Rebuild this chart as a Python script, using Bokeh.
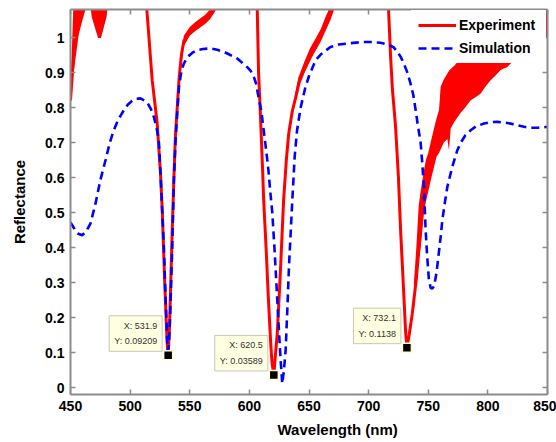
from bokeh.plotting import figure
from bokeh.models import (Range1d, LinearAxis, FixedTicker, Label, Title,
                          Legend, LegendItem, CustomLabelingPolicy)
from bokeh.embed import file_html
from bokeh.resources import INLINE

# ---------------- data ----------------
x_ticks = [450, 500, 550, 600, 650, 700, 750, 800, 850]
y_ticks = [0, 0.1, 0.2, 0.3, 0.4, 0.5, 0.6, 0.7, 0.8, 0.9, 1.0]
y_tick_labels = ["0", "0.1", "0.2", "0.3", "0.4", "0.5", "0.6", "0.7", "0.8", "0.9", "1"]

# Experiment (red) - values above 1.08 are off-scale in the original
exp_x = [450, 453, 455, 458, 466, 469, 474.3, 479, 482, 511, 514, 518.5, 522.7, 525.5,
         527, 529, 531, 531.9, 533, 535.3, 536.7, 538, 539.5, 541, 543, 545, 550, 555,
         559, 563, 566, 569, 572, 575, 604, 606.6, 607.7, 609, 611, 612, 614, 616, 618,
         619, 620.5, 622, 623.4, 626, 628.7, 631, 633, 636, 639, 641.6, 645.6, 651.3,
         655, 659.7, 664, 668, 672, 714, 716.7, 718.5, 720, 722.6, 725, 726.8, 729, 731,
         732.1, 734, 736.6, 740, 743, 746, 750, 755, 760, 766, 775, 785, 795, 805, 815,
         825, 835, 850]
exp_y = [0.82, 0.97, 1.06, 1.15, 1.15, 1.06, 1.0, 1.06, 1.15, 1.15, 1.08, 0.878, 0.755, 0.61,
         0.5, 0.3, 0.13, 0.092, 0.17, 0.45, 0.6, 0.72, 0.8, 0.88, 0.95, 0.99, 1.015, 1.025,
         1.035, 1.045, 1.055, 1.07, 1.09, 1.12, 1.15, 1.08, 0.9, 0.8, 0.63, 0.535, 0.4, 0.25, 0.12,
         0.07, 0.036, 0.1, 0.155, 0.33, 0.535, 0.65, 0.726, 0.79, 0.83, 0.87, 0.905, 0.945,
         0.97, 1.0, 1.04, 1.075, 1.12, 1.15, 1.08, 0.94, 0.85, 0.745, 0.6, 0.45, 0.3, 0.16,
         0.114, 0.15, 0.211, 0.31, 0.43, 0.55, 0.62, 0.68, 0.74, 0.8, 0.85, 0.9, 0.93, 0.96, 0.99,
         1.02, 1.05, 1.08]

# Experiment noise envelopes (lower / upper)
band1_x = [450, 451, 452.3, 453.4, 455, 457, 460, 462.6, 464]
band1_lo = [0.82, 0.85, 0.89, 0.92, 0.96, 1.01, 1.05, 1.08, 1.15]
band1_hi = [0.82, 0.95, 1.08, 1.2, 1.2, 1.2, 1.2, 1.2, 1.2]

band2_x = [468.2, 471, 474.3, 477, 480.2]
band2_lo = [1.08, 1.035, 1.0, 1.035, 1.08]
band2_hi = [1.2, 1.2, 1.2, 1.2, 1.2]

band3_x = [541, 545, 550, 555, 559, 563, 567, 571, 575]
band3_lo = [0.87, 0.975, 1.005, 1.02, 1.03, 1.04, 1.055, 1.075, 1.1]
band3_hi = [0.89, 1.005, 1.03, 1.045, 1.055, 1.065, 1.08, 1.1, 1.12]

band4_x = [636, 641, 646, 651, 656, 660, 664, 668, 672]
band4_lo = [0.78, 0.86, 0.9, 0.94, 0.965, 0.99, 1.02, 1.05, 1.09]
band4_hi = [0.8, 0.885, 0.93, 0.97, 1.0, 1.025, 1.06, 1.09, 1.12]

band5_x = [738, 740, 742, 743.6, 745, 746.4, 748, 750, 752, 754.8, 757, 759, 760.4, 763,
           766, 767.4, 768.8, 772, 777.2, 781, 785.6, 790, 794, 798, 802.3, 806, 810.7,
           816.3, 822, 830, 840, 850]
band5_lo = [0.22, 0.3, 0.36, 0.40, 0.45, 0.50, 0.53, 0.56, 0.59, 0.63, 0.66, 0.67, 0.68,
            0.70, 0.71, 0.678, 0.74, 0.76, 0.785, 0.80, 0.821, 0.83, 0.84, 0.86, 0.878,
            0.89, 0.907, 0.916, 0.935, 0.96, 0.98, 1.0]
band5_hi = [0.3, 0.40, 0.52, 0.56, 0.59, 0.62, 0.65, 0.67, 0.70, 0.74, 0.77, 0.792, 0.859,
            0.88, 0.897, 0.905, 0.91, 0.92, 0.94, 0.96, 0.98, 1.0, 1.02, 1.04, 1.06, 1.08,
            1.1, 1.12, 1.12, 1.12, 1.1, 1.1]

# Simulation (blue dashed)
sim_x = [450, 453, 456, 459.8, 463, 466.8, 471, 475, 479.4, 483, 486.3, 490, 494.7, 498,
         501.7, 505, 508.7, 512, 514.9, 517.5, 519.9, 522, 524, 525.5, 526.9, 528.3, 529.7,
         531, 531.5, 532.5, 533.5, 535.3, 536.7, 538, 539.5, 541, 543, 545, 548, 552, 556.3,
         561, 567.4, 573, 578.6, 584, 589.8, 594, 598, 601, 603.8, 605.5, 607.7, 610, 612,
         614, 616, 617.8, 619.2, 621, 623.4, 625, 626.2, 627.6, 629, 630.4, 631.8, 633.2,
         634.6, 636, 638, 640, 643, 647, 650, 655.5, 660, 668, 675, 685, 695, 701.7, 710,
         716, 721, 724, 727, 729.6, 732.7, 735, 737.5, 740, 741, 743.6, 745, 746.4, 747.8,
         749, 750.5, 752, 753.4, 755, 757, 760.4, 761.8, 764, 766, 770, 774.4, 777, 781,
         785.6, 790, 796.7, 802, 808, 814, 819, 825, 830.3, 836, 841.4, 846, 850]
sim_y = [0.472, 0.455, 0.44, 0.435, 0.445, 0.469, 0.526, 0.592, 0.65, 0.70, 0.735, 0.765,
         0.792, 0.808, 0.819, 0.825, 0.826, 0.82, 0.811, 0.795, 0.773, 0.745, 0.707, 0.612,
         0.507, 0.40, 0.26, 0.14, 0.105, 0.12, 0.2, 0.40, 0.592, 0.70, 0.783, 0.859, 0.905,
         0.925, 0.944, 0.956, 0.964, 0.967, 0.969, 0.965, 0.959, 0.95, 0.94, 0.928, 0.916,
         0.905, 0.887, 0.87, 0.83, 0.79, 0.735, 0.68, 0.62, 0.55, 0.5, 0.4, 0.25, 0.15, 0.078,
         0.011, 0.05, 0.107, 0.22, 0.345, 0.44, 0.535, 0.66, 0.735, 0.8, 0.858, 0.89, 0.935,
         0.952, 0.973, 0.98, 0.984, 0.987, 0.987, 0.985, 0.98, 0.972, 0.96, 0.944, 0.925,
         0.898, 0.87, 0.835, 0.78, 0.755, 0.70, 0.64, 0.57, 0.45, 0.38, 0.31, 0.285, 0.283,
         0.29, 0.33, 0.43, 0.478, 0.53, 0.573, 0.629, 0.678, 0.698, 0.72, 0.735, 0.746, 0.754,
         0.758, 0.759, 0.757, 0.754, 0.749, 0.745, 0.742, 0.742, 0.743, 0.745]

# Data tips
tip_x = [531.9, 620.5, 732.1]
tip_y = [0.09209, 0.03589, 0.1138]

# ---------------- figure ----------------
FONT = "Liberation Sans"
AXIS_COL = "#8c8c8c"

p = figure(width=556, height=442, x_range=Range1d(450, 850), y_range=Range1d(-0.02, 1.08),
           output_backend="svg", toolbar_location=None,
           min_border_left=70, min_border_right=9, min_border_top=9, min_border_bottom=48)
p.xgrid.visible = False
p.ygrid.visible = False
p.outline_line_color = None
p.background_fill_color = "white"

red = "#ff0000"
for bx, blo, bhi in [(band1_x, band1_lo, band1_hi), (band2_x, band2_lo, band2_hi),
                     (band3_x, band3_lo, band3_hi), (band4_x, band4_lo, band4_hi),
                     (band5_x, band5_lo, band5_hi)]:
    p.varea(x=bx, y1=blo, y2=bhi, fill_color=red, fill_alpha=1.0)

r_exp = p.line(exp_x, exp_y, line_color=red, line_width=3)
r_sim = p.line(sim_x, sim_y, line_color="#0000ff", line_width=2.6, line_dash="8 5")

p.scatter(tip_x, tip_y, marker="square", size=9, fill_color="black",
          line_color="#ffffd0", line_width=1.5)

for tx, ty in zip(tip_x, tip_y):
    p.add_layout(Label(x=tx, y=ty, text=f"X: {tx}\nY: {ty}", x_offset=-6, y_offset=4,
                       text_align="right", text_baseline="bottom", text_font=FONT,
                       text_font_size="9px", text_color="#333333", text_line_height=1.55,
                       background_fill_color="#ffffe1", border_line_color="#c8c8b4",
                       padding=5))

# axes
no_labels = CustomLabelingPolicy(code="for (const i of indices) { indices.unset(i) }\nreturn indices")

def style_axis(ax, labels=True):
    ax.major_tick_in = 5
    ax.major_tick_out = 0
    ax.minor_tick_line_color = None
    ax.axis_line_color = AXIS_COL
    ax.axis_line_width = 2
    ax.major_tick_line_color = AXIS_COL
    ax.major_tick_line_width = 1.5
    if labels:
        ax.major_label_text_font = FONT
        ax.major_label_text_font_style = "bold"
        ax.major_label_text_font_size = "14px"
        ax.major_label_text_color = "black"
        ax.major_label_standoff = 6
    else:
        ax.major_label_text_font_size = "1px"
        ax.major_label_standoff = 0
        ax.major_label_policy = no_labels

xa = p.xaxis[0]
ya = p.yaxis[0]
xa.ticker = FixedTicker(ticks=x_ticks)
ya.ticker = FixedTicker(ticks=y_ticks)
ya.major_label_overrides = dict(zip(y_ticks, y_tick_labels))
style_axis(xa)
style_axis(ya)
ya.axis_label = "Reflectance"
ya.axis_label_text_font = FONT
ya.axis_label_text_font_style = "bold"
ya.axis_label_text_font_size = "15px"
ya.axis_label_text_color = "black"
ya.axis_label_standoff = 14

top = LinearAxis(ticker=FixedTicker(ticks=x_ticks))
style_axis(top, labels=False)
p.add_layout(top, "above")
right = LinearAxis(ticker=FixedTicker(ticks=y_ticks))
style_axis(right, labels=False)
p.add_layout(right, "right")

p.add_layout(Title(text="Wavelength (nm)", align="left", offset=207, text_font=FONT,
                   text_font_style="bold", text_font_size="15px", text_color="black"), "below")

legend = Legend(items=[LegendItem(label="Experiment", renderers=[r_exp]),
                       LegendItem(label="Simulation", renderers=[r_sim])],
                location="top_right", margin=1, padding=7, spacing=7,
                glyph_width=38, glyph_height=16, label_height=16, label_width=80,
                label_standoff=3, label_text_font=FONT, label_text_font_style="bold",
                label_text_font_size="14px", label_text_color="black",
                border_line_alpha=0, background_fill_color="white", background_fill_alpha=1)
p.add_layout(legend)

open("out.html", "w").write(file_html(p, INLINE))
